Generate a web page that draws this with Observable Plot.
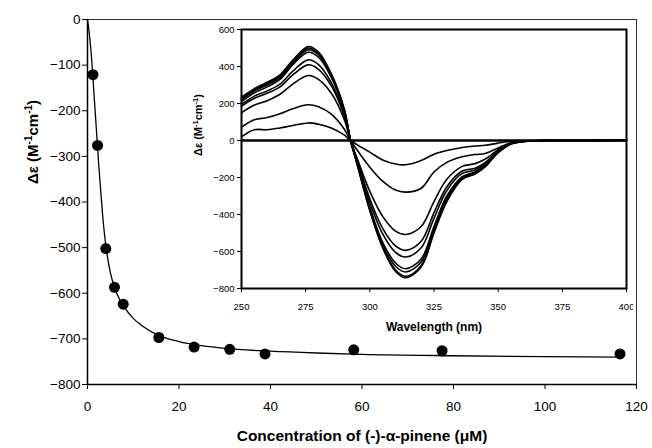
<!DOCTYPE html>
<html><head><meta charset="utf-8">
<script src="https://cdn.jsdelivr.net/npm/d3@7"></script>
<script src="https://cdn.jsdelivr.net/npm/@observablehq/plot@0.6"></script>
<style>
body{margin:0;background:#fff;}
#wrap{position:relative;width:652px;height:448px;background:#fff;}
#wrap svg{position:absolute;left:0;top:0;}
</style></head><body><div id="wrap"></div>
<script>
// ---- main titration data ----
const concentration = [1.2, 2.2, 4.0, 5.9, 7.8, 15.6, 23.3, 31.1, 38.8, 58.2, 77.5, 116.4];
const deltaEps = [-121, -276, -502, -587, -624, -697, -718, -723, -733, -724, -726, -733];
// fitted curve
const fitConc = [0, 0.5, 1, 1.5, 2, 2.5, 3, 3.5, 4, 5, 6, 7, 8, 10, 12, 15, 20, 25, 30, 40, 50, 60, 80, 100, 116.4];
const fitDeltaEps = [0, -40, -100, -175, -250, -325, -390, -450, -495, -555, -590, -613, -630, -655, -672, -690, -706, -715, -721, -727, -731, -734, -737, -739, -740];
const mainXTicks = [0, 20, 40, 60, 80, 100, 120];
const mainYTicks = [0, -100, -200, -300, -400, -500, -600, -700, -800];

// ---- inset CD spectra ----
const wavelength = [250,255,260,265,270,276,280,285,290,292.5,295,300,305,310,314,320,325,330,336,341,345,350,355,360,370,385,400];
const spectrum1 = [20,58,58,68,81,95,88,68,30,0,-22,-63,-105,-127,-131,-108,-74,-54,-38,-30,-26,-14,-5,-2,0,0,0];
const spectrum2 = [72,112,124,145,172,193,182,142,62,0,-50,-144,-220,-268,-279,-258,-170,-118,-88,-76,-70,-40,-12,-3,0,0,0];
const spectrum3 = [150,192,215,250,305,351,330,255,115,0,-95,-275,-410,-490,-508,-465,-330,-210,-140,-125,-100,-50,-14,-4,0,0,1];
const spectrum4 = [185,228,255,290,355,409,385,295,135,0,-105,-315,-475,-570,-594,-545,-390,-250,-165,-150,-118,-56,-16,-4,0,0,2];
const spectrum5 = [195,240,268,305,375,436,410,312,145,0,-110,-335,-505,-605,-630,-580,-420,-270,-178,-160,-125,-58,-17,-4,0,0,2];
const spectrum6 = [210,258,290,330,410,477,450,340,160,0,-118,-360,-550,-662,-693,-640,-465,-300,-195,-170,-133,-62,-18,-5,0,0,3];
const spectrum7 = [220,268,300,340,420,490,462,350,165,0,-121,-368,-563,-680,-711,-657,-480,-312,-200,-174,-136,-63,-18,-5,0,0,3];
const spectrum8 = [226,274,308,348,428,500,470,356,168,0,-124,-375,-575,-700,-734,-675,-492,-322,-205,-178,-139,-64,-18,-5,0,0,3];
const spectrum9 = [234,280,315,355,435,508,478,360,172,0,-126,-380,-580,-708,-742,-684,-500,-330,-210,-182,-142,-65,-19,-5,-1,0,3];
const insetXTicks = [250, 275, 300, 325, 350, 375, 400];
const insetYTicks = [600, 400, 200, 0, -200, -400, -600, -800];

const font = "'Liberation Sans', Arial, Helvetica, sans-serif";

const points = concentration.map((c, i) => ({c, v: deltaEps[i]}));
const fit = fitConc.map((c, i) => ({c, v: fitDeltaEps[i]}));
const spectra = [spectrum1, spectrum2, spectrum3, spectrum4, spectrum5, spectrum6, spectrum7, spectrum8, spectrum9];
const specRows = spectra.flatMap((s, k) => s.map((v, i) => ({w: wavelength[i], v, k})));

const main = Plot.plot({
  width: 652, height: 448,
  marginLeft: 87, marginRight: 16, marginTop: 19, marginBottom: 64,
  style: {fontFamily: font, fontSize: "13px", color: "#000", background: "transparent"},
  x: {domain: [0, 120]},
  y: {domain: [-800, 0]},
  marks: [
    Plot.frame({stroke: "#333", strokeWidth: 1}),
    Plot.axisX({ticks: mainXTicks, tickSize: 5, tickPadding: 12, label: null, fontSize: 13.5}),
    Plot.axisY({ticks: mainYTicks, tickSize: 5, tickPadding: 2, label: null, fontSize: 13.5}),
    Plot.ruleX([0], {stroke: "#000", strokeWidth: 1.5}),
    Plot.ruleY([-800], {stroke: "#000", strokeWidth: 1.5}),
    Plot.line(fit, {x: "c", y: "v", curve: "monotone-x", stroke: "#000", strokeWidth: 1.3}),
    Plot.dot(points, {x: "c", y: "v", r: 5.5, fill: "#000", stroke: "none"}),
    Plot.text(["Concentration of (-)-α-pinene (μM)"], {frameAnchor: "bottom", dy: 56, fontWeight: "bold", fontSize: 15.5, fill: "#000"}),
    Plot.text(["Δε (M-1cm-1)"], {frameAnchor: "left", dx: -54, dy: -18, rotate: -90, fontWeight: "bold", fontSize: 15, fill: "#000", className: "ytitle-main"})
  ]
});

const inset = Plot.plot({
  width: 463, height: 320,
  marginLeft: 71, marginRight: 7, marginTop: 7, marginBottom: 54,
  style: {fontFamily: font, fontSize: "9.5px", color: "#000", background: "transparent"},
  x: {domain: [250, 400]},
  y: {domain: [-800, 600]},
  marks: [
    Plot.frame({stroke: "#000", strokeWidth: 2}),
    Plot.axisX({ticks: insetXTicks, tickSize: 4, tickPadding: 11, label: null, fontSize: 9.5}),
    Plot.axisY({ticks: insetYTicks, tickSize: 4, tickPadding: 3, label: null, fontSize: 9.5}),
    Plot.ruleY([0], {stroke: "#000", strokeWidth: 2.5}),
    Plot.line(specRows, {x: "w", y: "v", z: "k", curve: "catmull-rom", stroke: "#000", strokeWidth: 1.6}),
    Plot.text(["Wavelength (nm)"], {frameAnchor: "bottom", dy: 42, fontWeight: "bold", fontSize: 12, fill: "#000"}),
    Plot.text(["Δε (M-1cm-1)"], {frameAnchor: "left", dx: -43, dy: -3, rotate: -90, fontWeight: "bold", fontSize: 11, fill: "#000", className: "ytitle-inset"})
  ]
});

function superscript(svg, cls, shift, small) {
  d3.select(svg).selectAll("." + cls + " text").each(function() {
    const t = d3.select(this);
    t.text(null);
    t.append("tspan").text("Δε (M");
    t.append("tspan").attr("dy", -shift).attr("font-size", small).text("-1");
    t.append("tspan").attr("dy", shift).text("cm");
    t.append("tspan").attr("dy", -shift).attr("font-size", small).text("-1");
    t.append("tspan").attr("dy", shift).text(")");
  });
}
superscript(main, "ytitle-main", 6, 10);
superscript(inset, "ytitle-inset", 4, 7.5);

const wrap = document.getElementById("wrap");
wrap.appendChild(main);
inset.style.left = "170px";
inset.style.top = "22px";
wrap.appendChild(inset);
</script>
</body></html>
